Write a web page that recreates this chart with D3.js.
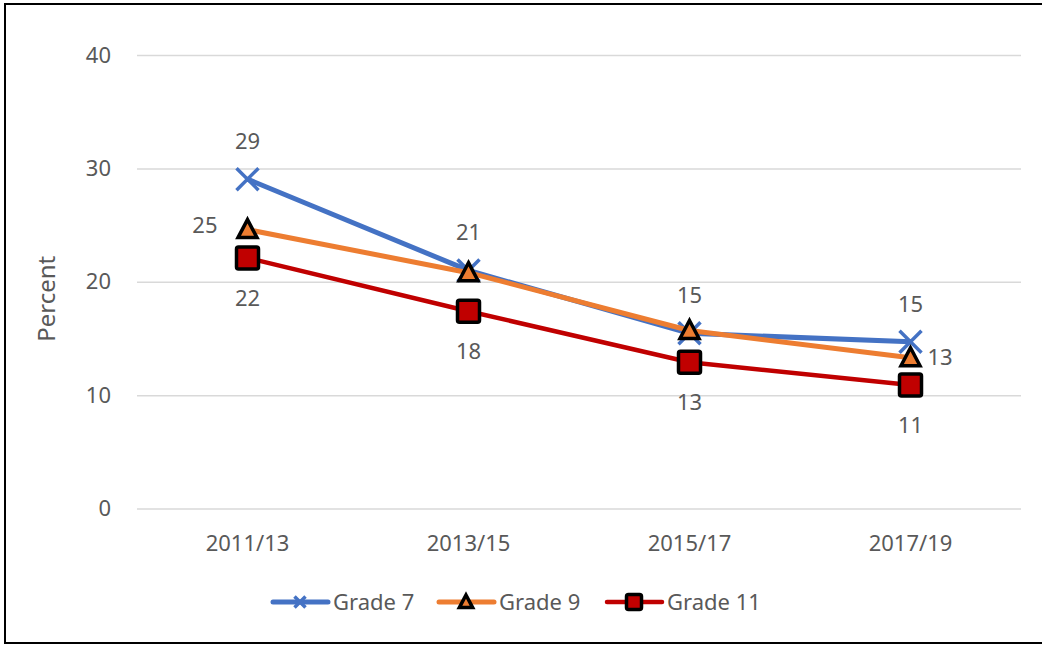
<!DOCTYPE html>
<html>
<head>
<meta charset="utf-8">
<script src="https://cdn.jsdelivr.net/npm/d3@7"></script>
<style>
  body { margin: 0; background: #fff; }
  svg text { font-family: "Noto Sans", "Open Sans", sans-serif; fill: #595959; }
</style>
</head>
<body>
<svg id="chart"></svg>
<script>
// ---------------- Data ----------------
var periods = ['2011/13', '2013/15', '2015/17', '2017/19'];
var yTicks = [0, 10, 20, 30, 40];

var grade7 = [29.05, 21.0, 15.45, 14.7];
var grade9 = [24.6, 20.8, 15.7, 13.3];
var grade11 = [22.1, 17.4, 12.9, 10.9];

// labels shown on the chart (null = hidden)
var grade7Labels = ['29', '21', '15', '15'];
var grade9Labels = ['25', null, null, '13'];
var grade11Labels = ['22', '18', '13', '11'];

var seriesNames = ['Grade 7', 'Grade 9', 'Grade 11'];
var seriesColors = ['#4472c4', '#ed7d31', '#c00000'];

// ---------------- Setup ----------------
var width = 1042, height = 645;
var margin = {left: 137, right: 21, top: 55, bottom: 137};
var fs = 22;

var svg = d3.select('#chart')
  .attr('width', width)
  .attr('height', height);

// outer frame
svg.append('rect')
  .attr('x', 5).attr('y', 4)
  .attr('width', width + 10).attr('height', 639)
  .attr('fill', 'none')
  .attr('stroke', '#000')
  .attr('stroke-width', 2);

var xScale = d3.scaleBand()
  .domain(periods)
  .range([margin.left, width - margin.right]);

var yScale = d3.scaleLinear()
  .domain([0, 40])
  .range([height - margin.bottom + 0.5, margin.top]);

// gridlines
svg.append('g')
  .attr('class', 'grid')
  .attr('transform', `translate(${margin.left}, 0)`)
  .call(d3.axisLeft(yScale)
    .tickValues(yTicks)
    .tickSize(-(width - margin.left - margin.right))
    .tickFormat(''))
  .call(g => g.select('.domain').remove())
  .selectAll('line')
    .attr('stroke', '#d9d9d9')
    .attr('stroke-width', 1.5);

// y tick labels
svg.append('g')
  .selectAll('text')
  .data(yTicks)
  .enter()
  .append('text')
    .attr('x', 111)
    .attr('y', d => yScale(d))
    .attr('dy', '0.35em')
    .attr('text-anchor', 'end')
    .attr('font-size', fs)
    .text(d => d);

// x tick labels
svg.append('g')
  .selectAll('text')
  .data(periods)
  .enter()
  .append('text')
    .attr('x', d => xScale(d) + xScale.bandwidth() / 2)
    .attr('y', 543)
    .attr('dy', '0.35em')
    .attr('text-anchor', 'middle')
    .attr('font-size', fs)
    .text(d => d);

// axis title
svg.append('text')
  .attr('transform', 'rotate(-90)')
  .attr('x', -(yScale(20) + 17))
  .attr('y', 55)
  .attr('text-anchor', 'middle')
  .attr('font-size', 24)
  .text('Percent');

var cx = d => xScale(d) + xScale.bandwidth() / 2;

// ---------------- Markers ----------------
function drawMarker(g, type, x, y, color, s) {
  if (type === 'x') {
    var h = s / 2;
    g.append('path')
      .attr('d', `M${x - h},${y - h}L${x + h},${y + h}M${x - h},${y + h}L${x + h},${y - h}`)
      .attr('stroke', color)
      .attr('stroke-width', 3.5)
      .attr('fill', 'none');
  } else if (type === 'tri') {
    var h2 = s / 2;
    g.append('path')
      .attr('d', `M${x},${y - h2}L${x + h2 * 0.95},${y + h2 * 0.8}L${x - h2 * 0.95},${y + h2 * 0.8}Z`)
      .attr('fill', color)
      .attr('stroke', '#000')
      .attr('stroke-width', 3.5)
      .attr('stroke-linejoin', 'miter');
  } else {
    g.append('rect')
      .attr('x', x - s / 2).attr('y', y - s / 2)
      .attr('width', s).attr('height', s)
      .attr('rx', 2)
      .attr('fill', color)
      .attr('stroke', '#000')
      .attr('stroke-width', 3.5);
  }
}

var series = [
  {name: seriesNames[0], values: grade7, labels: grade7Labels, color: seriesColors[0], marker: 'x', size: 22, lw: 5, pos: 'above'},
  {name: seriesNames[1], values: grade9, labels: grade9Labels, color: seriesColors[1], marker: 'tri', size: 20, lw: 5, pos: 'side'},
  {name: seriesNames[2], values: grade11, labels: grade11Labels, color: seriesColors[2], marker: 'sq', size: 22, lw: 4.5, pos: 'below'}
];

var line = d3.line()
  .x((d, i) => cx(periods[i]))
  .y(d => yScale(d));

series.forEach(function(s) {
  var g = svg.append('g');
  g.append('path')
    .datum(s.values)
    .attr('d', line)
    .attr('fill', 'none')
    .attr('stroke', s.color)
    .attr('stroke-width', s.lw)
    .attr('stroke-linejoin', 'round');
  s.values.forEach(function(v, i) {
    drawMarker(g, s.marker, cx(periods[i]), yScale(v), s.color, s.size);
  });
});

// data labels
series.forEach(function(s) {
  s.values.forEach(function(v, i) {
    if (!s.labels[i]) return;
    var x = cx(periods[i]), y = yScale(v), anchor = 'middle';
    if (s.pos === 'above') y -= 38;
    else if (s.pos === 'below') y += 40;
    else if (i === 0) { x -= 30; anchor = 'end'; y -= 4; }
    else { x += 17; anchor = 'start'; }
    svg.append('text')
      .attr('x', x)
      .attr('y', y)
      .attr('dy', '0.35em')
      .attr('text-anchor', anchor)
      .attr('font-size', fs)
      .text(s.labels[i]);
  });
});

// ---------------- Legend ----------------
var legendX = [273, 439, 607];
var legend = svg.append('g');
series.forEach(function(s, i) {
  var x0 = legendX[i], y0 = 602;
  legend.append('line')
    .attr('x1', x0).attr('x2', x0 + 55)
    .attr('y1', y0).attr('y2', y0)
    .attr('stroke', s.color)
    .attr('stroke-width', s.lw)
    .attr('stroke-linecap', 'round');
  drawMarker(legend, s.marker, x0 + 27, y0, s.color, s.marker === 'x' ? 11 : (s.marker === 'tri' ? 14 : 15));
  legend.append('text')
    .attr('x', x0 + 60)
    .attr('y', y0)
    .attr('dy', '0.35em')
    .attr('font-size', fs)
    .text(s.name);
});
</script>
</body>
</html>
